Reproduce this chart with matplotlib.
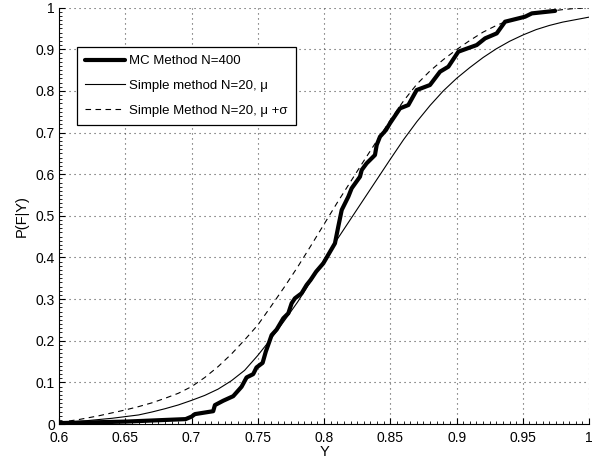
import matplotlib
matplotlib.use('Agg')
import matplotlib.pyplot as plt
from matplotlib.ticker import MultipleLocator

plt.rcParams['font.family'] = ['Liberation Sans', 'DejaVu Sans']

mc_y_vals = [0.600, 0.650, 0.6955, 0.700, 0.7025, 0.7163, 0.7176, 0.7238, 0.7314,
             0.7377, 0.7415, 0.7465, 0.749, 0.7536, 0.756, 0.7578, 0.7604, 0.7642,
             0.7692, 0.773, 0.7755, 0.778, 0.783, 0.7868, 0.7898, 0.794, 0.7994,
             0.8082, 0.8107, 0.8133, 0.8183, 0.8208, 0.8271, 0.8284, 0.8321, 0.8384,
             0.8397, 0.8422, 0.8467, 0.8497, 0.8573, 0.8636, 0.8699, 0.8799, 0.8875,
             0.8938, 0.9013, 0.9152, 0.9215, 0.9303, 0.9366, 0.9517, 0.9568, 0.9744]
mc_p_vals = [0.0025, 0.006, 0.012, 0.018, 0.024, 0.031, 0.0456, 0.056, 0.067,
             0.0896, 0.112, 0.120, 0.136, 0.147, 0.174, 0.190, 0.2137, 0.227,
             0.254, 0.266, 0.290, 0.302, 0.314, 0.334, 0.346, 0.366, 0.386,
             0.434, 0.474, 0.514, 0.546, 0.566, 0.594, 0.610, 0.626, 0.646,
             0.670, 0.690, 0.706, 0.722, 0.758, 0.766, 0.802, 0.814, 0.846,
             0.858, 0.894, 0.910, 0.926, 0.938, 0.966, 0.978, 0.986, 0.992]

# simple method, mu
mu_y_vals = [0.60, 0.62, 0.64, 0.65, 0.66, 0.67, 0.68, 0.69, 0.70, 0.71, 0.72, 0.73,
             0.74, 0.75, 0.76, 0.77, 0.78, 0.79, 0.80, 0.81, 0.82, 0.83, 0.84, 0.85,
             0.86, 0.87, 0.88, 0.89, 0.90, 0.91, 0.92, 0.93, 0.94, 0.95, 0.96, 0.97,
             0.98, 0.99, 1.00]
mu_p_vals = [0.003, 0.008, 0.014, 0.018, 0.022, 0.029, 0.037, 0.046, 0.057, 0.069, 0.084, 0.104,
             0.129, 0.165, 0.205, 0.248, 0.293, 0.343, 0.394, 0.444, 0.492, 0.540, 0.588, 0.636,
             0.683, 0.726, 0.765, 0.800, 0.830, 0.856, 0.880, 0.901, 0.919, 0.934, 0.947, 0.957,
             0.965, 0.971, 0.977]

# simple method, mu + sigma
ms_y_vals = [0.60, 0.615, 0.63, 0.65, 0.66, 0.67, 0.68, 0.69, 0.70, 0.71, 0.72, 0.73,
             0.74, 0.75, 0.76, 0.77, 0.78, 0.79, 0.80, 0.81, 0.82, 0.83, 0.84, 0.85,
             0.86, 0.87, 0.88, 0.89, 0.90, 0.91, 0.92, 0.93, 0.94, 0.95, 0.96, 0.97,
             0.98, 0.99, 1.00]
ms_p_vals = [0.004, 0.011, 0.020, 0.034, 0.042, 0.051, 0.062, 0.074, 0.090, 0.112, 0.138, 0.168,
             0.202, 0.238, 0.283, 0.329, 0.377, 0.428, 0.480, 0.532, 0.582, 0.632, 0.681, 0.730,
             0.776, 0.816, 0.848, 0.875, 0.899, 0.921, 0.941, 0.957, 0.970, 0.978, 0.986, 0.991,
             0.995, 0.998, 0.999]

labels = ['MC Method N=400', 'Simple method N=20, \u03bc', 'Simple Method N=20, \u03bc +\u03c3']
xtick_labels = ['0.6', '0.65', '0.7', '0.75', '0.8', '0.85', '0.9', '0.95', '1']
ytick_labels = ['0', '0.1', '0.2', '0.3', '0.4', '0.5', '0.6', '0.7', '0.8', '0.9', '1']

fig = plt.figure(figsize=(6, 4.63), dpi=100)
ax = fig.add_axes([0.0985, 0.084, 0.8833, 0.8997])

ax.plot(mc_y_vals, mc_p_vals, color='black', lw=3.0, solid_joinstyle='round',
        solid_capstyle='round', label=labels[0])
ax.plot(mu_y_vals, mu_p_vals, color='black', lw=0.8, label=labels[1])
ax.plot(ms_y_vals, ms_p_vals, color='black', lw=0.8, dashes=(5, 4), label=labels[2])

ax.set_xlim(0.6, 1.0)
ax.set_ylim(0, 1)
ax.set_xticks([float(t) for t in xtick_labels])
ax.set_xticklabels(xtick_labels)
ax.set_yticks([float(t) for t in ytick_labels])
ax.set_yticklabels(ytick_labels)
ax.xaxis.set_minor_locator(MultipleLocator(0.005))
ax.yaxis.set_minor_locator(MultipleLocator(0.01))
ax.tick_params(axis='x', which='major', pad=5)
ax.tick_params(axis='y', which='major', pad=3)
ax.tick_params(which='major', direction='in', length=4, width=0.8, labelsize=10)
ax.tick_params(which='minor', direction='in', length=2, width=0.6)

for side in ['top', 'right']:
    ax.spines[side].set_visible(False)
for side in ['left', 'bottom']:
    ax.spines[side].set_linewidth(0.8)

ax.grid(True, which='major', color='0.3', linestyle=(0, (1, 3.5)), linewidth=0.8)
ax.set_axisbelow(True)

ax.set_xlabel('Y', fontsize=10.5, labelpad=0)
ax.set_ylabel('P(F|Y)', fontsize=10.5, labelpad=5)

leg = ax.legend(loc='upper left', bbox_to_anchor=(0.034, 0.905), borderaxespad=0,
                fontsize=9.5, handlelength=3.0, labelspacing=0.95, handletextpad=0.35,
                borderpad=0.6, fancybox=False, framealpha=1)
leg.get_frame().set_edgecolor('black')
leg.get_frame().set_linewidth(0.9)

plt.savefig('out.png', dpi=100)
